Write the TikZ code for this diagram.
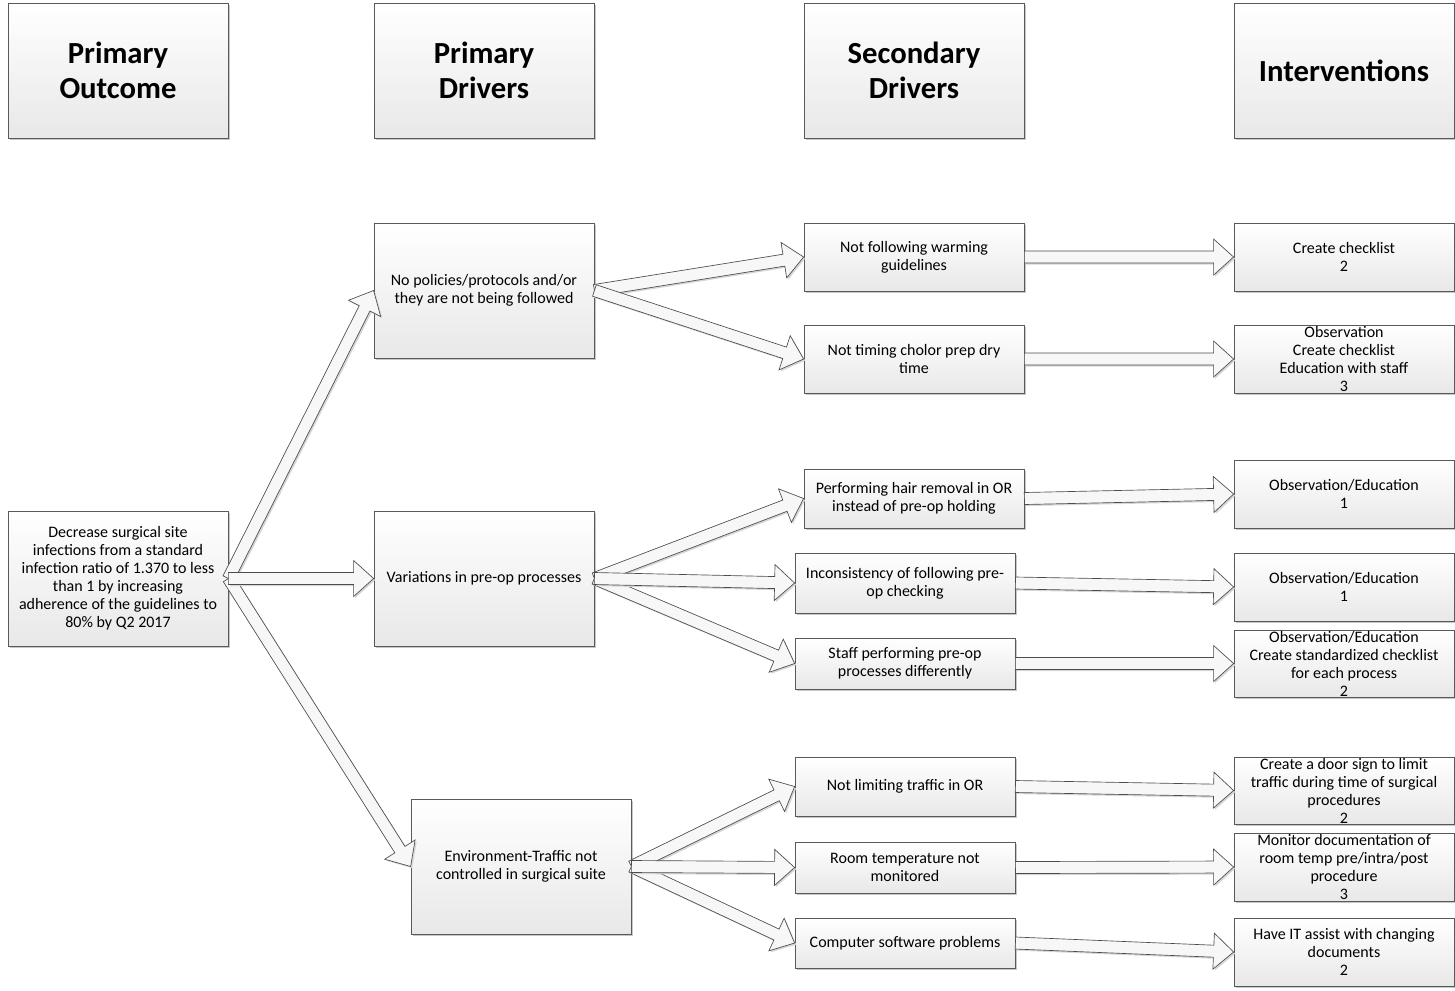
\documentclass[tikz,border=0pt]{standalone}
\usepackage{fontspec}
\setmainfont{Carlito}
\usetikzlibrary{calc,shadows}
\tikzset{
  box/.style={draw=black!65, line width=0.6pt, top color=white, bottom color=black!9,
    drop shadow={shadow xshift=1.6pt, shadow yshift=-1.6pt, fill=black!22, opacity=1},
    inner sep=0pt, align=center, font=\fontsize{12}{13.5}\selectfont},
  headbox/.style={box, font=\fontsize{23}{26.3}\selectfont\bfseries},
  blkarrow/.style={draw=black!70, line width=0.5pt, fill=black!3, line join=miter},
  blkshadow/.style={fill=black!16},
}
\newcommand\bx[7][box]{%
  \node[#1, minimum width={(#5-#3)*0.75pt}, minimum height={(#6-#4)*0.75pt}]
    (#2) at ({(#3+#5)/2},{(#4+#6)/2}) {#7};}
\newcommand\blk[2]{%
  \coordinate (bA) at (#1);
  \coordinate (bB) at (#2);
  \coordinate (bC) at ($(bB)!15pt!(bA)$);
  \coordinate (q1) at ($(bA)!4.5pt!90:(bB)$);
  \coordinate (q2) at ($(bC)!4.5pt!-90:(bA)$);
  \coordinate (q3) at ($(bC)!13.5pt!-90:(bA)$);
  \coordinate (q4) at ($(bC)!13.5pt!90:(bA)$);
  \coordinate (q5) at ($(bC)!4.5pt!90:(bA)$);
  \coordinate (q6) at ($(bA)!4.5pt!-90:(bB)$);
  \begin{scope}[transform canvas={shift={(1.2pt,-1.2pt)}}]
    \fill[blkshadow] (q1) -- (q2) -- (q3) -- (bB) -- (q4) -- (q5) -- (q6) -- cycle;
  \end{scope}
  \draw[blkarrow] (q1) -- (q2) -- (q3) -- (bB) -- (q4) -- (q5) -- (q6) -- cycle;
}
\begin{document}
\begin{tikzpicture}[x=0.75pt, y=-0.75pt]
\useasboundingbox (0,0) rectangle (1455,990);
% headers
\bx[headbox]{h1}{8}{3}{228}{138}{Primary\\Outcome}
\bx[headbox]{h2}{374}{3}{594}{138}{Primary\\Drivers}
\bx[headbox]{h3}{804}{3}{1024}{138}{Secondary\\Drivers}
\bx[headbox]{h4}{1234}{3}{1454}{138}{Interventions}
% outcome
\bx{O}{8}{511}{228}{646}{Decrease surgical site\\infections from a standard\\infection ratio of 1.370 to less\\than 1 by increasing\\adherence of the guidelines to\\80\% by Q2 2017}
% primary drivers
\bx{P1}{374}{223}{594}{358}{No policies/protocols and/or\\they are not being followed}
\bx{P2}{374}{511}{594}{646}{Variations in pre-op processes}
\bx{P3}{411}{799}{631}{934}{Environment-Traffic not\\controlled in surgical suite}
% secondary drivers
\bx{S1}{804}{223}{1024}{291}{Not following warming\\guidelines}
\bx{S2}{804}{325}{1024}{393}{Not timing cholor prep dry\\time}
\bx{S3}{804}{469}{1024}{528}{Performing hair removal in OR\\instead of pre-op holding}
\bx{S4}{795}{553}{1015}{613}{Inconsistency of following pre-\\op checking}
\bx{S5}{795}{638}{1015}{689}{Staff performing pre-op\\processes differently}
\bx{S6}{795}{757}{1015}{816}{Not limiting traffic in OR}
\bx{S7}{795}{842}{1015}{893}{Room temperature not\\monitored}
\bx{S8}{795}{918}{1015}{968}{Computer software problems}
% interventions
\bx{I1}{1234}{223}{1454}{291}{Create checklist\\2}
\bx{I2}{1234}{325}{1454}{393}{Observation\\Create checklist\\Education with staff\\3}
\bx{I3}{1234}{460}{1454}{528}{Observation/Education\\1}
\bx{I4}{1234}{553}{1454}{621}{Observation/Education\\1}
\bx{I5}{1234}{630}{1454}{697}{Observation/Education\\Create standardized checklist\\for each process\\2}
\bx{I6}{1234}{757}{1454}{824}{Create a door sign to limit\\traffic during time of surgical\\procedures\\2}
\bx{I7}{1234}{833}{1454}{901}{Monitor documentation of\\room temp pre/intra/post\\procedure\\3}
\bx{I8}{1234}{918}{1454}{986}{Have IT assist with changing\\documents\\2}
% arrows
\blk{O.east}{P1.west}
\blk{O.east}{P3.west}
\blk{O.east}{P2.west}
\blk{P1.east}{S1.west}
\blk{P1.east}{S2.west}
\blk{P2.east}{S3.west}
\blk{P2.east}{S5.west}
\blk{P2.east}{S4.west}
\blk{P3.east}{S6.west}
\blk{P3.east}{S8.west}
\blk{P3.east}{S7.west}
\blk{S1.east}{I1.west}
\blk{S2.east}{I2.west}
\blk{S3.east}{I3.west}
\blk{S4.east}{I4.west}
\blk{S5.east}{I5.west}
\blk{S6.east}{I6.west}
\blk{S7.east}{I7.west}
\blk{S8.east}{I8.west}
\end{tikzpicture}
\end{document}
